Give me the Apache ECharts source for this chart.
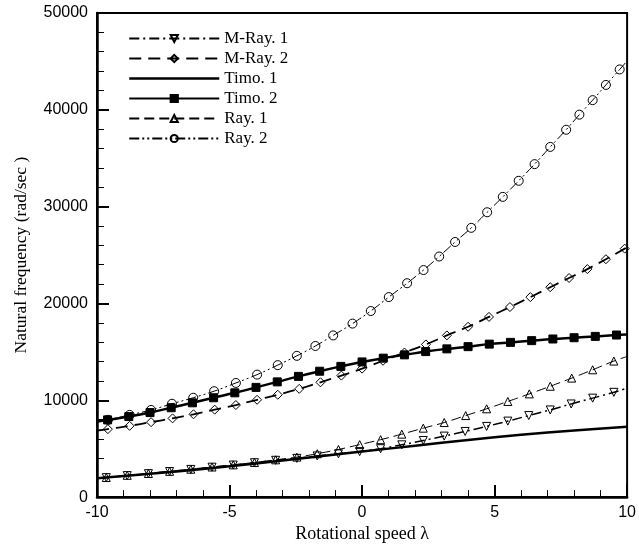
<!DOCTYPE html>
<html>
<head>
<meta charset="utf-8">
<script src="https://cdn.jsdelivr.net/npm/echarts@6/dist/echarts.min.js"></script>
<style>
  html, body { margin: 0; padding: 0; background: #fff; }
  #chart { width: 639px; height: 548px; }
</style>
</head>
<body>
<div id="chart"></div>
<script>
// marker positions (lambda, rad/sec); +-10 are line ends only
const mRay1Lambda = [-10, -9.65, -8.86, -8.06, -7.26, -6.46, -5.66, -4.86, -4.06, -3.26, -2.46, -1.69, -0.89, -0.09, 0.7, 1.5, 2.31, 3.1, 3.89, 4.7, 5.5, 6.29, 7.1, 7.89, 8.7, 9.5, 10]
const mRay1Freq = [1950, 2010, 2220, 2420, 2640, 2860, 3090, 3310, 3550, 3800, 4000, 4250, 4470, 4700, 5000, 5400, 5850, 6300, 6780, 7300, 7850, 8420, 9000, 9620, 10220, 10820, 11250]

const mRay2Lambda = [-10, -9.59, -8.77, -7.96, -7.15, -6.36, -5.56, -4.76, -3.96, -3.18, -2.37, -1.57, -0.78, 0, 0.79, 1.6, 2.41, 3.2, 4.0, 4.79, 5.58, 6.35, 7.1, 7.81, 8.5, 9.2, 9.91, 10]
const mRay2Freq = [6880, 7020, 7360, 7740, 8130, 8555, 9030, 9510, 10050, 10570, 11180, 11860, 12550, 13270, 14080, 14930, 15770, 16700, 17590, 18610, 19630, 20655, 21680, 22630, 23550, 24570, 25665, 25800]

const timo1Lambda = [-10, -8, -6, -4, -2, 0, 2, 4, 6, 8, 10]
const timo1Freq = [1950, 2400, 2900, 3480, 4090, 4700, 5310, 5900, 6430, 6880, 7260]

const timo2Lambda = [-10, -9.6, -8.8, -8.0, -7.2, -6.4, -5.6, -4.8, -4.0, -3.2, -2.4, -1.6, -0.8, 0, 0.8, 1.6, 2.4, 3.2, 4.0, 4.8, 5.6, 6.4, 7.2, 8.0, 8.8, 9.6, 10]
const timo2Freq = [7800, 7975, 8320, 8730, 9230, 9740, 10260, 10770, 11330, 11900, 12470, 13000, 13500, 13960, 14350, 14690, 15030, 15310, 15540, 15800, 15980, 16160, 16330, 16460, 16600, 16740, 16800]

const ray1Lambda = [-10, -9.65, -8.86, -8.06, -7.26, -6.46, -5.66, -4.86, -4.06, -3.26, -2.46, -1.69, -0.89, -0.09, 0.7, 1.5, 2.31, 3.1, 3.91, 4.7, 5.5, 6.31, 7.1, 7.91, 8.7, 9.5, 10]
const ray1Freq = [1950, 2020, 2250, 2440, 2660, 2880, 3110, 3330, 3580, 3850, 4130, 4480, 4920, 5420, 5930, 6500, 7120, 7700, 8420, 9120, 9880, 10660, 11450, 12290, 13150, 14050, 14520]

const ray2Lambda = [-10, -9.59, -8.77, -7.96, -7.17, -6.37, -5.58, -4.76, -3.96, -3.18, -2.46, -1.76, -1.09, -0.36, 0.33, 1.01, 1.70, 2.32, 2.91, 3.51, 4.12, 4.72, 5.31, 5.91, 6.51, 7.10, 7.70, 8.20, 8.70, 9.20, 9.72, 10]
const ray2Freq = [7750, 7980, 8490, 9000, 9640, 10260, 10940, 11790, 12650, 13630, 14590, 15610, 16700, 17920, 19220, 20660, 22090, 23450, 24850, 26350, 27810, 29420, 31010, 32670, 34390, 36170, 37940, 39500, 41000, 42570, 44170, 45050]

const xTicks = { min: -10, max: 10, step: 5 }
const yTicks = { min: 0, max: 50000, step: 10000 }

const serif = 'Liberation Serif'
const sans = 'Liberation Sans'

// end points of each curve carry no symbol
function pts(lam, val) {
    return lam.map((l, i) => {
        const p = { value: [l, val[i]] }
        if (Math.abs(l) === 10) p.symbol = 'none'
        return p
    })
}

function curve(name, lam, val, opts) {
    return {
        name: name,
        type: 'line',
        data: pts(lam, val),
        smooth: 0.4,
        symbol: opts.symbol,
        symbolSize: opts.size || 8,
        symbolRotate: opts.rotate || 0,
        showSymbol: opts.symbol !== 'none',
        lineStyle: { color: '#000', width: opts.width, type: opts.dash || 'solid' },
        itemStyle: {
            color: opts.fill || 'rgba(0,0,0,0)',
            borderColor: '#000',
            // no marker on Timo. 1, so keep its legend symbol invisible too
            borderWidth: opts.symbol === 'none' ? 0 : 1
        },
        emphasis: { disabled: true },
        z: 2
    }
}

const chart = echarts.init(document.getElementById('chart'))

const option = {
    animation: false,
    backgroundColor: '#fff',
    grid: {
        left: 97, right: 8, top: 13, bottom: 46,
        show: true, borderColor: '#000', borderWidth: 2
    },
    legend: {
        orient: 'vertical',
        left: 128, top: 30,
        padding: 0,
        itemWidth: 90, itemHeight: 9, itemGap: 3,
        textStyle: { fontFamily: serif, fontSize: 17, color: '#000' },
        data: [
            'M-Ray. 1',
            'M-Ray. 2',
            { name: 'Timo. 1', lineStyle: { width: 2.5, color: '#000' } },
            'Timo. 2',
            'Ray. 1',
            'Ray. 2'
        ]
    },
    xAxis: {
        type: 'value',
        min: xTicks.min, max: xTicks.max, interval: xTicks.step,
        name: 'Rotational speed λ',
        nameLocation: 'middle', nameGap: 23,
        nameTextStyle: { fontFamily: serif, fontSize: 18, color: '#000' },
        axisLine: { onZero: false, lineStyle: { color: '#000', width: 2.5 } },
        axisTick: { inside: true, length: 12, lineStyle: { color: '#000', width: 2 } },
        minorTick: { show: true, splitNumber: 5, length: 7, lineStyle: { color: '#000', width: 1 } },
        splitLine: { show: false },
        axisLabel: { fontFamily: sans, fontSize: 16, color: '#000', margin: 7 }
    },
    yAxis: {
        type: 'value',
        min: yTicks.min, max: yTicks.max, interval: yTicks.step,
        name: 'Natural frequency (rad/sec )',
        nameLocation: 'middle', nameGap: 67,
        nameTextStyle: { fontFamily: serif, fontSize: 17.5, color: '#000' },
        axisLine: { onZero: false, lineStyle: { color: '#000', width: 2.5 } },
        axisTick: { inside: true, length: 12, lineStyle: { color: '#000', width: 2 } },
        minorTick: { show: true, splitNumber: 5, length: 7, lineStyle: { color: '#000', width: 1 } },
        splitLine: { show: false },
        axisLabel: { fontFamily: sans, fontSize: 16, color: '#000', margin: 9, formatter: v => String(v) }
    },
    series: [
        curve('M-Ray. 1', mRay1Lambda, mRay1Freq, { symbol: 'triangle', rotate: 180, size: 8, width: 1.5, dash: [10, 4, 2, 4] }),
        curve('M-Ray. 2', mRay2Lambda, mRay2Freq, { symbol: 'diamond', size: 9, width: 1.8, dash: [12, 7] }),
        curve('Timo. 1', timo1Lambda, timo1Freq, { symbol: 'none', width: 2.5 }),
        curve('Timo. 2', timo2Lambda, timo2Freq, { symbol: 'rect', size: 8, width: 2.5, fill: '#000' }),
        curve('Ray. 1', ray1Lambda, ray1Freq, { symbol: 'triangle', size: 8, width: 1, dash: [10, 5] }),
        curve('Ray. 2', ray2Lambda, ray2Freq, { symbol: 'circle', size: 9, width: 1, dash: [10, 3, 2, 3, 2, 3] })
    ]
}

chart.setOption(option)
</script>
</body>
</html>
